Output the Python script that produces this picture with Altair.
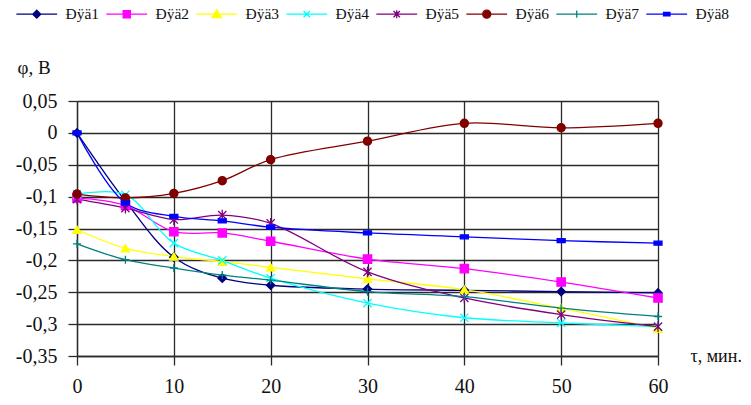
import altair as alt
import pandas as pd

# ---- data ----
series_names = ["Ðÿä1", "Ðÿä2", "Ðÿä3", "Ðÿä4", "Ðÿä5", "Ðÿä6", "Ðÿä7", "Ðÿä8"]
t_values = [0, 5, 10, 15, 20, 30, 40, 50, 60]
s1 = [0.0, -0.107, -0.195, -0.228, -0.239, -0.245, -0.247, -0.249, -0.251]
s2 = [-0.102, -0.114, -0.155, -0.157, -0.170, -0.198, -0.213, -0.234, -0.259]
s3 = [-0.152, -0.181, -0.194, -0.202, -0.211, -0.229, -0.246, -0.275, -0.307]
s4 = [-0.096, -0.097, -0.173, -0.200, -0.228, -0.267, -0.290, -0.298, -0.304]
s5 = [-0.104, -0.118, -0.136, -0.129, -0.142, -0.218, -0.259, -0.285, -0.304]
s6 = [-0.096, -0.102, -0.095, -0.075, -0.042, -0.013, 0.015, 0.008, 0.015]
s7 = [-0.174, -0.199, -0.212, -0.223, -0.231, -0.249, -0.257, -0.275, -0.288]
s8 = [0.0, -0.110, -0.131, -0.138, -0.148, -0.157, -0.163, -0.169, -0.173]
x_ticks = [0, 10, 20, 30, 40, 50, 60]
y_ticks = [-0.35, -0.3, -0.25, -0.2, -0.15, -0.1, -0.05, 0, 0.05]

colors = ["#000080", "#FF00FF", "#FFFF00", "#00FFFF", "#800080", "#800000", "#008080", "#0000FF"]

all_series = [s1, s2, s3, s4, s5, s6, s7, s8]
rows = []
for name, vals in zip(series_names, all_series):
    for t, v in zip(t_values, vals):
        rows.append({"series": name, "t": t, "v": v})
df = pd.DataFrame(rows)

# marker shapes for the plot
plot_shapes = [
    "diamond",
    "square",
    "triangle-up",
    "M-1,-1L1,1M-1,1L1,-1",
    "M-1,-1L1,1M-1,1L1,-1M0,-1.3L0,1.3",
    "circle",
    "M-1,0L1,0M0,-1L0,1",
    "M-1,-0.5H1V0.5H-1Z",
]
plot_sizes = [70, 64, 90, 56, 56, 80, 56, 40]

# legend symbols: line + marker
ln = " M-5.1,0H5.1"
legend_shapes = [
    "M0,-1L1,0L0,1L-1,0Z" + ln,
    "M-0.9,-0.9H0.9V0.9H-0.9Z" + ln,
    "M0,-1.1L1.15,0.85L-1.15,0.85Z" + ln,
    "M-0.8,-0.8L0.8,0.8M-0.8,0.8L0.8,-0.8" + ln,
    "M-0.8,-0.8L0.8,0.8M-0.8,0.8L0.8,-0.8M0,-1L0,1" + ln,
    "M1,0A1,1,0,1,1,-1,0A1,1,0,1,1,1,0Z" + ln,
    "M0,-0.9L0,0.9" + ln,
    "M-0.8,-0.45H0.8V0.45H-0.8Z" + ln,
]

FONT = "Liberation Serif, Liberation Sans, sans-serif"
GRID = "#2a2a2a"

color_scale = alt.Scale(domain=series_names, range=colors)

x_enc = alt.X(
    "t:Q",
    scale=alt.Scale(domain=[0, 60], nice=False),
    axis=alt.Axis(
        values=x_ticks,
        title="τ, мин.",
        titleX=613, titleY=0, titleAlign="left", titleBaseline="middle", titleAngle=0,
        titleFont=FONT, titleFontSize=18, titleFontWeight="normal", titleColor="#111",
        labelFont=FONT, labelFontSize=20, labelColor="#111", labelPadding=11, labelFlush=False,
        tickSize=9, tickColor=GRID, tickWidth=1.3,
        domainColor=GRID, domainWidth=1.3,
        grid=True, gridColor=GRID, gridWidth=1.3, gridOpacity=1,
    ),
)
y_enc = alt.Y(
    "v:Q",
    scale=alt.Scale(domain=[-0.35, 0.05], nice=False, zero=False),
    axis=alt.Axis(
        values=y_ticks,
        labelExpr="replace('' + datum.value, '.', ',')",
        title="φ, В",
        titleX=-60, titleY=-34, titleAlign="left", titleBaseline="middle", titleAngle=0,
        titleFont=FONT, titleFontSize=19, titleFontWeight="normal", titleColor="#111",
        labelFont=FONT, labelFontSize=20, labelColor="#111", labelPadding=11, labelFlush=False,
        tickSize=9, tickColor=GRID, tickWidth=1.3,
        domainColor=GRID, domainWidth=1.3,
        grid=True, gridColor=GRID, gridWidth=1.3, gridOpacity=1,
    ),
)

base = alt.Chart(df)

lines = base.mark_line(interpolate="catmull-rom", strokeWidth=1.3).encode(
    x=x_enc, y=y_enc,
    stroke=alt.Stroke("series:N", scale=color_scale, legend=None),
    detail="series:N",
)

points = base.mark_point(filled=True, strokeWidth=1.3, opacity=1).encode(
    x=x_enc, y=y_enc,
    fill=alt.Fill("series:N", scale=color_scale, legend=None),
    stroke=alt.Stroke("series:N", scale=color_scale, legend=None),
    shape=alt.Shape("series:N", scale=alt.Scale(domain=series_names, range=plot_shapes), legend=None),
    size=alt.Size("series:N", scale=alt.Scale(domain=series_names, range=plot_sizes), legend=None),
)

leg = alt.Legend(
    title=None, orient="none", legendX=-48, legendY=-95,
    direction="horizontal", columns=8,
    symbolSize=64, symbolStrokeWidth=1.3, symbolOpacity=1,
    labelFont=FONT, labelFontSize=15.5, labelColor="#111",
    labelOffset=21, columnPadding=3, padding=0,
)

legend_layer = base.transform_filter("false").mark_point(filled=True, strokeWidth=1.3, opacity=1).encode(
    x=x_enc, y=y_enc,
    fill=alt.Fill("series:N", scale=color_scale, legend=leg),
    stroke=alt.Stroke("series:N", scale=color_scale, legend=leg),
    shape=alt.Shape("series:N", scale=alt.Scale(domain=series_names, range=legend_shapes), legend=leg),
)

chart = (
    alt.layer(lines, points, legend_layer)
    .resolve_scale(fill="independent", stroke="independent", shape="independent", size="independent")
    .properties(
        width=581, height=255,
        autosize=alt.AutoSizeParams(type="none"),
        padding={"left": 69, "top": 93, "right": 85, "bottom": 41},
        background="white",
    )
    .configure_view(stroke=None)
)

chart.save("out.html", embed_options={"renderer": "svg", "actions": False})
